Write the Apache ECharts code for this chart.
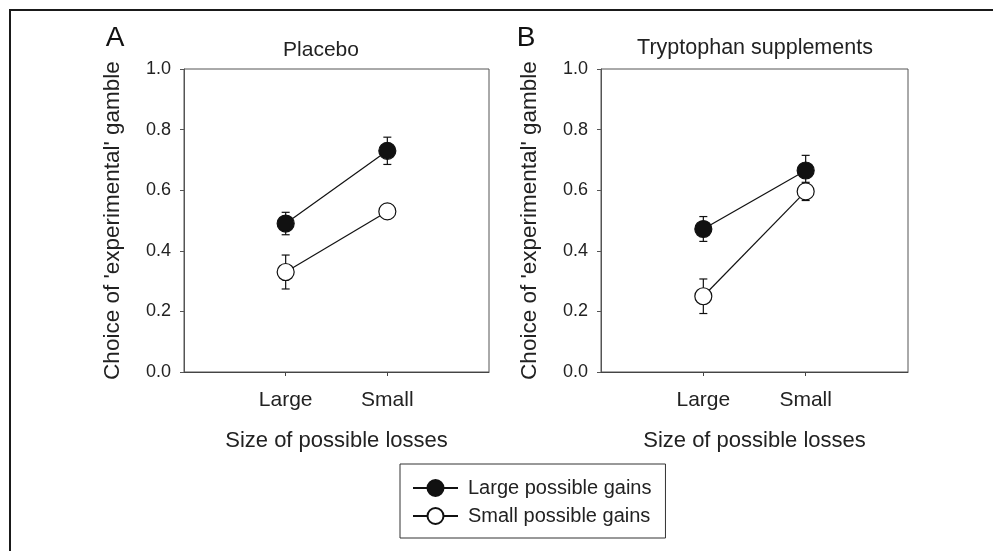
<!DOCTYPE html>
<html>
<head>
<meta charset="utf-8">
<script src="https://cdn.jsdelivr.net/npm/echarts@6/dist/echarts.min.js"></script>
<style>
html,body{margin:0;padding:0;background:#fff;}
#chart{width:993px;height:551px;}
</style>
</head>
<body>
<div id="chart"></div>
<script>
// ---- data ----
const categories = ['Large', 'Small'];
const yTicks = [0.0, 0.2, 0.4, 0.6, 0.8, 1.0];
const panelTitles = ['Placebo', 'Tryptophan supplements'];
const panelLetters = ['A', 'B'];
const seriesNames = ['Large possible gains', 'Small possible gains'];
// Panel A (Placebo)
const placeboLargeGains = [0.49, 0.73];
const placeboLargeGainsErr = [0.037, 0.045];
const placeboSmallGains = [0.33, 0.53];
const placeboSmallGainsErr = [0.056, 0.012];
// Panel B (Tryptophan)
const tryptoLargeGains = [0.472, 0.665];
const tryptoLargeGainsErr = [0.041, 0.05];
const tryptoSmallGains = [0.25, 0.596];
const tryptoSmallGainsErr = [0.057, 0.03];

const FONT = 'Liberation Sans, Arial, Helvetica, sans-serif';
const axisCats = [''].concat(categories, ['']);

const chart = echarts.init(document.getElementById('chart'), null, {renderer: 'canvas'});

const grids = [
  {left: 184, top: 69, width: 305, height: 303, show: true, borderColor: '#555', borderWidth: 1},
  {left: 601, top: 69, width: 307, height: 303, show: true, borderColor: '#555', borderWidth: 1}
];

function xAxisFor(i) {
  return {
    type: 'category', gridIndex: i, data: axisCats, boundaryGap: false,
    axisLine: {lineStyle: {color: '#444', width: 1}},
    axisTick: {show: true, length: 4, interval: (idx, v) => v !== '', lineStyle: {color: '#444'}},
    axisLabel: {interval: 0, margin: 18, fontSize: 21, color: '#222', fontFamily: FONT},
    splitLine: {show: false},
    name: 'Size of possible losses', nameLocation: 'middle', nameGap: 58,
    nameTextStyle: {fontSize: 22, color: '#222', fontFamily: FONT}
  };
}
function yAxisFor(i) {
  return {
    type: 'value', gridIndex: i, min: 0, max: 1, interval: 0.2,
    axisLine: {show: true, lineStyle: {color: '#555', width: 1}},
    axisTick: {show: true, length: 4, lineStyle: {color: '#555'}},
    axisLabel: {margin: 13, fontSize: 18, color: '#222', fontFamily: FONT,
      formatter: v => { const t = yTicks.find(k => Math.abs(k - v) < 1e-9); return (t !== undefined ? t : v).toFixed(1); }},
    splitLine: {show: false},
    name: "Choice of 'experimental' gamble", nameLocation: 'middle', nameGap: 60,
    nameTextStyle: {fontSize: 22.5, color: '#222', fontFamily: FONT}
  };
}

function pairs(vals) { return categories.map((c, i) => [c, vals[i]]); }
function errPairs(vals, errs) { return categories.map((c, i) => [c, vals[i], errs[i]]); }

function errorSeries(gi, vals, errs) {
  return {
    type: 'custom', xAxisIndex: gi, yAxisIndex: gi, z: 1,
    encode: {x: 0, y: 1},
    data: errPairs(vals, errs),
    renderItem: function (params, api) {
      const x = api.value(0), y = api.value(1), e = api.value(2);
      const top = api.coord([x, y + e]);
      const bot = api.coord([x, y - e]);
      const cw = 4;
      const st = {stroke: '#111', lineWidth: 1.2};
      return {type: 'group', children: [
        {type: 'line', shape: {x1: top[0], y1: top[1], x2: bot[0], y2: bot[1]}, style: st},
        {type: 'line', shape: {x1: top[0] - cw, y1: top[1], x2: top[0] + cw, y2: top[1]}, style: st},
        {type: 'line', shape: {x1: bot[0] - cw, y1: bot[1], x2: bot[0] + cw, y2: bot[1]}, style: st}
      ]};
    }
  };
}
function lineSeries(gi, name, vals, filled) {
  return {
    type: 'line', name: name, xAxisIndex: gi, yAxisIndex: gi, z: 3,
    data: pairs(vals), symbol: 'circle', symbolSize: 17,
    lineStyle: {color: '#111', width: 1.2},
    itemStyle: {color: filled ? '#111' : '#fff', borderColor: '#111', borderWidth: 1.2},
    emphasis: {disabled: true}, animation: false
  };
}

const option = {
  backgroundColor: '#fff',
  animation: false,
  grid: grids,
  xAxis: [xAxisFor(0), xAxisFor(1)],
  yAxis: [yAxisFor(0), yAxisFor(1)],
  legend: {
    data: seriesNames, orient: 'vertical', left: 400, top: 464,
    itemWidth: 45, itemHeight: 20, itemGap: 8,
    padding: [14, 14, 12, 12],
    borderColor: '#333', borderWidth: 1,
    textStyle: {fontSize: 20, color: '#222', fontFamily: FONT, padding: [0, 0, 0, 5]},
    selectedMode: false
  },
  graphic: [
    {type: 'polyline', shape: {points: [[10, 551], [10, 10], [993, 10]]}, style: {stroke: '#1a1a1a', lineWidth: 2, fill: null}},
    {type: 'text', x: 115, y: 38, style: {text: panelLetters[0], font: '28px ' + FONT, fill: '#111', align: 'center', verticalAlign: 'middle'}},
    {type: 'text', x: 526, y: 38, style: {text: panelLetters[1], font: '28px ' + FONT, fill: '#111', align: 'center', verticalAlign: 'middle'}},
    {type: 'text', x: 321, y: 50, style: {text: panelTitles[0], font: '21px ' + FONT, fill: '#222', align: 'center', verticalAlign: 'middle'}},
    {type: 'text', x: 755, y: 48, style: {text: panelTitles[1], font: '21.5px ' + FONT, fill: '#222', align: 'center', verticalAlign: 'middle'}}
  ],
  series: [
    errorSeries(0, placeboLargeGains, placeboLargeGainsErr),
    errorSeries(0, placeboSmallGains, placeboSmallGainsErr),
    lineSeries(0, seriesNames[0], placeboLargeGains, true),
    lineSeries(0, seriesNames[1], placeboSmallGains, false),
    errorSeries(1, tryptoLargeGains, tryptoLargeGainsErr),
    errorSeries(1, tryptoSmallGains, tryptoSmallGainsErr),
    lineSeries(1, seriesNames[0], tryptoLargeGains, true),
    lineSeries(1, seriesNames[1], tryptoSmallGains, false)
  ]
};
chart.setOption(option);
</script>
</body>
</html>
